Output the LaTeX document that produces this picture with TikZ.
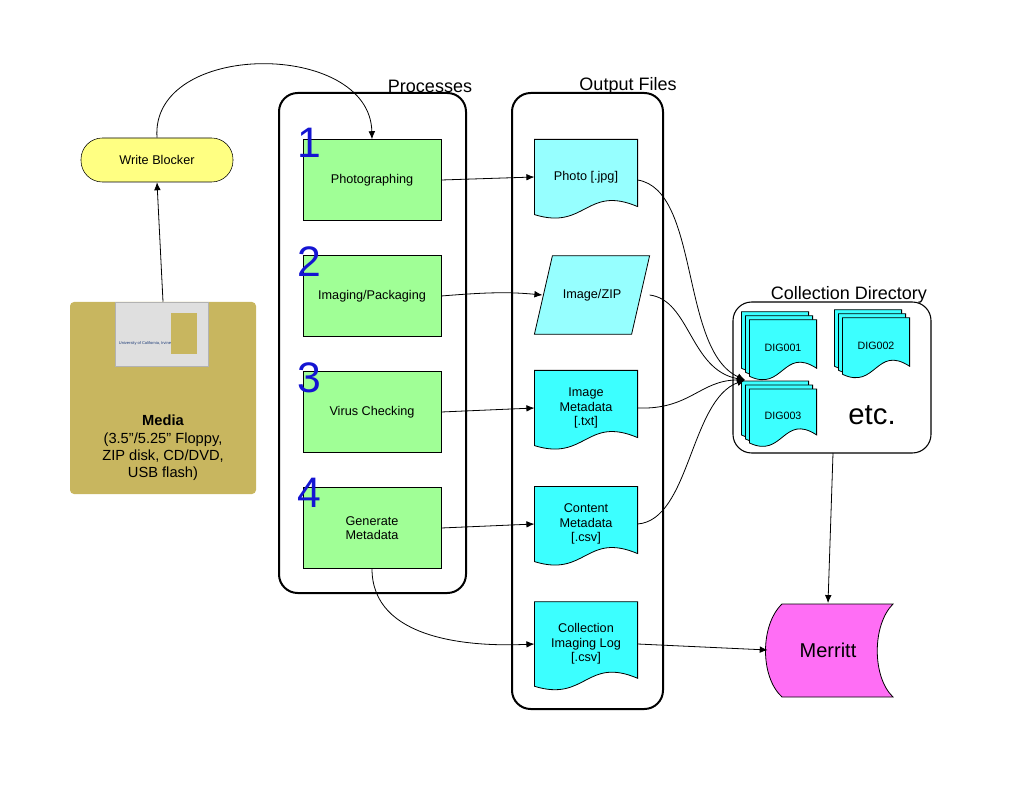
\documentclass[tikz,border=0pt]{standalone}
\usepackage{fontspec}
\setmainfont{Liberation Sans}
\usetikzlibrary{calc,arrows.meta}
\pgfdeclarelayer{bg}
\pgfsetlayers{bg,main}
\definecolor{stepgreen}{RGB}{160,255,150}
\definecolor{floppygold}{RGB}{200,182,95}
\definecolor{blockyellow}{RGB}{255,255,130}
\definecolor{numblue}{RGB}{20,20,210}
\definecolor{lightcyan}{RGB}{150,255,255}
\definecolor{doccyan}{RGB}{60,255,255}
\definecolor{merrittpink}{RGB}{255,110,245}
\definecolor{ucblue}{RGB}{30,60,120}

\tikzset{
  procstep/.style={draw,fill=stepgreen,minimum width=103.5pt,minimum height=60.75pt,font=\fontsize{9.5}{11}\selectfont,align=center},
  outdoc/.style={minimum width=77pt,minimum height=56pt,font=\fontsize{9.5}{11}\selectfont,align=center,inner sep=0pt},
  flow/.style={-{Latex[length=6pt,width=5pt]},line width=0.6pt},
  stepnum/.style={text=numblue,font=\fontsize{32}{32}\selectfont},
  grouplbl/.style={font=\fontsize{13.5}{15}\selectfont}
}
% wavy document outline around a named node, shifted by (#3,#4)
\newcommand{\wavydoc}[4]{%
  \draw[fill=#2,line width=0.6pt] ($(#1.north west)+(#3,#4)$) -- ($(#1.north east)+(#3,#4)$) -- ($(#1.south east)+(#3,#4-8)$)
    .. controls ($(#1.south)+(#3,#4-30)$) and ($(#1.south)+(#3,#4+16)$) .. ($(#1.south west)+(#3,#4)$) -- cycle;}

\begin{document}
\begin{tikzpicture}[x=0.75pt,y=-0.75pt]
\useasboundingbox (0,0) rectangle (1024,791);

%Group boxes
\draw[rounded corners=14pt,line width=1.5pt] (279,93) rectangle (466,593);
\draw[rounded corners=14pt,line width=1.5pt] (512,93) rectangle (663,709);
\node[grouplbl] at (430,86) {Processes};
\node[grouplbl] at (628,86) {Output Files};

%Media
\node[fill=floppygold,rounded corners=3pt,minimum width=139.5pt,minimum height=144pt] (floppy) at (163,398) {};
\fill[gray!25,draw=gray!60] (115,302) rectangle (208,366);
\fill[floppygold] (171,313) rectangle (197,354);
\node[text=ucblue,font=\fontsize{3}{3}\selectfont] at (145,343) {University of California, Irvine};
\node[font=\fontsize{11}{13}\selectfont,align=center] at (163,448) {\textbf{Media}\\(3.5''/5.25'' Floppy,\\ZIP disk, CD/DVD,\\USB flash)};

%Write blocker
\node[draw,fill=blockyellow,rounded corners=16pt,minimum width=114pt,minimum height=33pt,font=\fontsize{9.5}{11}\selectfont] (blocker) at (157,160) {Write Blocker};

%Processes
\node[procstep] (photo) at (372,180) {Photographing};
\node[procstep] (imaging) at (372,296) {Imaging/Packaging};
\node[procstep] (virus) at (372,412) {Virus Checking};
\node[procstep] (genmeta) at (372,528) {Generate\\Metadata};
\node[stepnum] at (309,143) {1};
\node[stepnum] at (309,262) {2};
\node[stepnum] at (309,378) {3};
\node[stepnum] at (309,493) {4};

%Output files
\node[outdoc] (jpg) at (586,177) {Photo [.jpg]};
\node[outdoc,minimum width=86pt,minimum height=58.5pt] (zip) at (592,295) {Image/ZIP};
\node[outdoc] (imgmeta) at (586,408) {Image\\Metadata\\{[.txt]}};
\node[outdoc] (conmeta) at (586,524) {Content\\Metadata\\{[.csv]}};
\node[outdoc,minimum height=63pt] (imglog) at (586,644) {Collection\\Imaging Log\\{[.csv]}};

%Collection directory
\draw[rounded corners=14pt,line width=0.8pt] (733,302) rectangle (931,453);
\node[grouplbl] at (849,295) {Collection Directory};
\node[outdoc,minimum width=50pt,minimum height=42pt,font=\fontsize{8}{9}\selectfont] (dig1) at (783,348) {DIG001};
\node[outdoc,minimum width=50pt,minimum height=42pt,font=\fontsize{8}{9}\selectfont] (dig2) at (876,346) {DIG002};
\node[outdoc,minimum width=50pt,minimum height=40pt,font=\fontsize{8}{9}\selectfont] (dig3) at (783,416) {DIG003};
\node[font=\fontsize{22}{24}\selectfont] (etc) at (872,415) {etc.};

%Merritt
\node[minimum width=90pt,minimum height=70pt,font=\fontsize{15}{17}\selectfont] (merritt) at (828,650) {Merritt};

\begin{pgfonlayer}{bg}
\wavydoc{jpg}{lightcyan}{0}{0}
\draw[fill=lightcyan,line width=0.6pt] ($(zip.north west)+(18,0)$) -- (zip.north east) -- ($(zip.south east)+(-18,0)$) -- (zip.south west) -- cycle;
\wavydoc{imgmeta}{doccyan}{0}{0}
\wavydoc{conmeta}{doccyan}{0}{0}
\wavydoc{imglog}{doccyan}{0}{0}
\foreach \d in {dig1,dig2,dig3}{
  \wavydoc{\d}{doccyan}{-8}{-8}
  \wavydoc{\d}{doccyan}{-4}{-4}
  \wavydoc{\d}{doccyan}{0}{0}
}
\draw[fill=merrittpink,line width=0.6pt] (782,604) -- (893,604) .. controls (872,625) and (872,677) .. (893,697) -- (782,697) .. controls (760,677) and (760,625) .. (782,604) -- cycle;
\end{pgfonlayer}

%Connectors
\draw[flow] (floppy.north) -- (blocker.south);
\draw[flow] (blocker.north) .. controls (150,40) and (370,40) .. (photo.north);
\draw[flow] (photo.east) -- (jpg.west);
\draw[flow] (imaging.east) .. controls (490,292) and (510,292) .. ($(zip.west)+(8,0)$);
\draw[flow] (virus.east) -- (imgmeta.west);
\draw[flow] (genmeta.east) -- (conmeta.west);
\draw[flow] (genmeta.south) .. controls (372,640) and (470,647) .. (imglog.west);
\coordinate (dirin) at (745,380);
\draw[flow] ($(jpg.east)+(0,3)$) .. controls (700,190) and (680,350) .. (dirin);
\draw[flow] (zip.east) .. controls (690,300) and (690,370) .. (dirin);
\draw[flow] (imgmeta.east) .. controls (690,410) and (700,380) .. (dirin);
\draw[flow] (conmeta.east) .. controls (690,520) and (690,400) .. (dirin);
\draw[flow] (imglog.east) -- (merritt.west);
\draw[flow] (833,453) -- (merritt.north);
\end{tikzpicture}
\end{document}
